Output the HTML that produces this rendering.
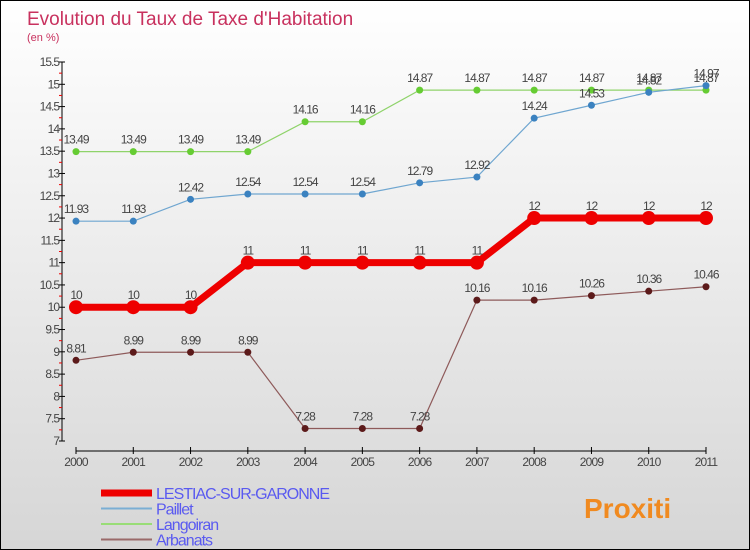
<!DOCTYPE html>
<html><head><meta charset="utf-8"><style>
body{margin:0}
#wrap{position:relative;width:750px;height:550px;box-sizing:border-box;border:1px solid #000;background:linear-gradient(#ffffff,#d6d6d6);font-family:"Liberation Sans",sans-serif;overflow:hidden}
svg{position:absolute;left:0;top:0}
</style></head><body>
<div id="wrap">
<svg id="s" width="750" height="550">
<text x="26" y="24" font-size="19" fill="#c8315e">Evolution du Taux de Taxe d'Habitation</text>
<text x="26" y="40" font-size="11" fill="#c8315e">(en %)</text>
</svg>
</div>
<script>
const years=[2000,2001,2002,2003,2004,2005,2006,2007,2008,2009,2010,2011];
const lestiac=[10,10,10,11,11,11,11,11,12,12,12,12];
const paillet=[11.93,11.93,12.42,12.54,12.54,12.54,12.79,12.92,14.24,14.53,14.82,14.97];
const langoiran=[13.49,13.49,13.49,13.49,14.16,14.16,14.87,14.87,14.87,14.87,14.87,14.87];
const arbanats=[8.81,8.99,8.99,8.99,7.28,7.28,7.28,10.16,10.16,10.26,10.36,10.46];
const yTicks=[7,7.5,8,8.5,9,9.5,10,10.5,11,11.5,12,12.5,13,13.5,14,14.5,15,15.5];
const NS="http://www.w3.org/2000/svg";
const s=document.getElementById('s');
const X=y=>75+(y-2000)*(630/11);
const Y=v=>440-(v-7)*(379/8.5);
function el(t,a,p){const e=document.createElementNS(NS,t);for(const k in a)e.setAttribute(k,a[k]);(p||s).appendChild(e);return e;}
let ya=el('line',{x1:61,y1:61,x2:61,y2:440,stroke:'#000'});


let xa=el('line',{x1:75,y1:450,x2:705,y2:450,stroke:'#000'});


yTicks.forEach((v,i)=>{
  el('line',{x1:58,x2:64,y1:Y(v),y2:Y(v),stroke:'#000'});
  if(i<yTicks.length-1) el('line',{x1:58,x2:61,y1:(Y(v)+Y(yTicks[i+1]))/2,y2:(Y(v)+Y(yTicks[i+1]))/2,stroke:'#e00'});
  const t=el('text',{x:58,y:Y(v)+4,'text-anchor':'end','font-size':12,fill:'#444','letter-spacing':'-1'});
  t.textContent=String(v);
  
  
});
years.forEach(yr=>{
  el('line',{x1:X(yr),x2:X(yr),y1:446,y2:453,stroke:'#000'});
  const t=el('text',{x:X(yr),y:465,'text-anchor':'middle','font-size':12,fill:'#444','letter-spacing':'-0.8'});
  t.textContent=yr;
  
  
});
function series(vals,color,dot,w,r,name){
  const g=el('g',{});
  
  
  el('polyline',{points:vals.map((v,i)=>X(years[i])+','+Y(v)).join(' '),fill:'none',stroke:color,'stroke-width':w},g);
  vals.forEach((v,i)=>{
    const c=el('circle',{cx:X(years[i]),cy:Y(v),r:r,fill:dot},g);
    
    
    const t=el('text',{x:X(years[i]),y:Y(v)-8,'text-anchor':'middle','font-size':12,fill:'#444','letter-spacing':'-1'},g);
    t.textContent=String(v);
  });
}
series(arbanats,'#8e5a5a','#5c1a1a',1.2,3.5,'series-arbanats');
series(langoiran,'#8fd36a','#66cc33',1.2,3.5,'series-langoiran');
series(paillet,'#6fa6d0','#3b82c0',1.2,3.5,'series-paillet');
series(lestiac,'#ee0000','#ee0000',7,7,'series-lestiac');
const leg=[['LESTIAC-SUR-GARONNE','#ee0000',7],['Paillet','#7aaed4',2],['Langoiran','#99dd77',2],['Arbanats','#9a6a6a',2]];
leg.forEach((l,i)=>{
  const y=492+i*15.5;
  const g=el('g',{});
  
  
  el('line',{x1:100,x2:151,y1:y,y2:y,stroke:l[1],'stroke-width':l[2]},g);
  const t=el('text',{x:155,y:y+6,'font-size':16,fill:'#5a5af0','letter-spacing':'-1'},g);
  t.textContent=l[0];
});
const p=el('text',{x:583,y:517,'font-size':28,'font-weight':'bold',fill:'#f08a20'});
p.textContent='Proxiti';


</script>
</body></html>
